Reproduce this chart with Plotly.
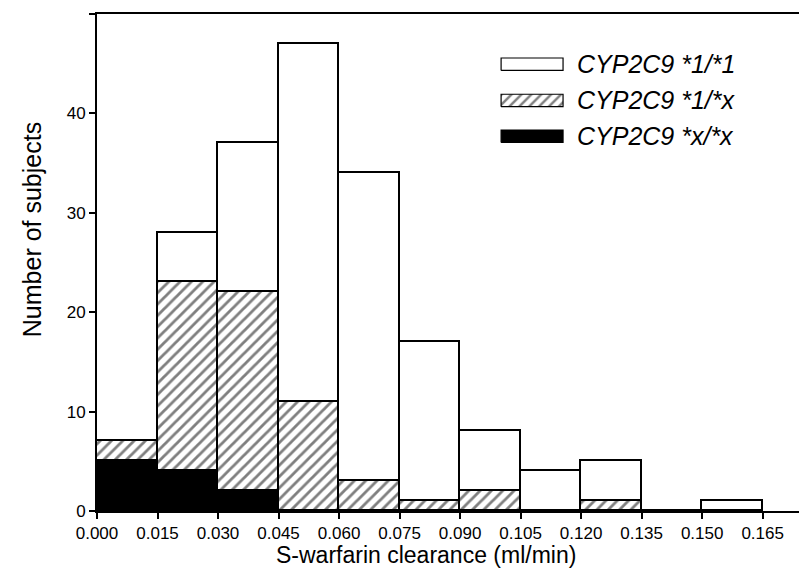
import plotly.graph_objects as go

bin_edges = [0.000, 0.015, 0.030, 0.045, 0.060, 0.075, 0.090, 0.105, 0.120, 0.135, 0.150, 0.165]
xx_counts = [5, 4, 2, 0, 0, 0, 0, 0, 0, 0, 0]          # CYP2C9 *x/*x
x1_counts = [2, 19, 20, 11, 3, 1, 2, 0, 1, 0, 0]       # CYP2C9 *1/*x
w11_counts = [0, 5, 15, 36, 31, 16, 6, 4, 4, 0, 1]     # CYP2C9 *1/*1
tick_vals = bin_edges
tick_text = ["%.3f" % v for v in bin_edges]
y_ticks = [0, 10, 20, 30, 40, 50]
legend_labels = ["CYP2C9 *1/*1", "CYP2C9 *1/*x", "CYP2C9 *x/*x"]

FONT = "Liberation Sans, Arial, sans-serif"
width = bin_edges[1] - bin_edges[0]
centers = [(a + b) / 2 for a, b in zip(bin_edges[:-1], bin_edges[1:])]

fig = go.Figure()
line = dict(color="black", width=1.6)
hatch = dict(shape="/", fgcolor="black", bgcolor="white", size=8, solidity=0.35)
fig.add_trace(go.Bar(x=centers, y=xx_counts, width=width, marker=dict(color="black", line=line),
                     showlegend=False))
fig.add_trace(go.Bar(x=centers, y=x1_counts, width=width,
                     marker=dict(color="white", line=line, pattern=hatch),
                     showlegend=False))
fig.add_trace(go.Bar(x=centers, y=w11_counts, width=width, marker=dict(color="white", line=line),
                     showlegend=False))

# custom legend on an overlay axis (unit square over plot area)
leg_x0, leg_x1 = 0.574, 0.662
leg_centers = [0.899, 0.826, 0.754]
leg_h = 0.025
styles = [
    dict(fillcolor="white"),
    dict(fillcolor="white", fillpattern=dict(shape="/", fgcolor="black", bgcolor="white", size=7, solidity=0.35)),
    dict(fillcolor="black"),
]
for lab, cy, st in zip(legend_labels, leg_centers, styles):
    fig.add_trace(go.Scatter(
        x=[leg_x0, leg_x1, leg_x1, leg_x0, leg_x0],
        y=[cy - leg_h / 2, cy - leg_h / 2, cy + leg_h / 2, cy + leg_h / 2, cy - leg_h / 2],
        mode="lines", fill="toself", line=dict(color="black", width=1.2),
        xaxis="x2", yaxis="y2", showlegend=False, hoverinfo="skip", **st))
    fig.add_annotation(x=0.679, y=cy, xref="paper", yref="paper", text="<i>%s</i>" % lab,
                       showarrow=False, xanchor="left", yanchor="middle",
                       font=dict(family=FONT, size=25, color="black"))

# axis titles
fig.add_annotation(x=0.467, y=0, xref="paper", yref="paper", yshift=-44,
                   text="S-warfarin clearance (ml/min)", showarrow=False,
                   xanchor="center", yanchor="middle",
                   font=dict(family=FONT, size=23, color="black"))
fig.add_annotation(x=0, y=0.565, xref="paper", yref="paper", xshift=-65,
                   text="Number of subjects", showarrow=False, textangle=-90,
                   xanchor="center", yanchor="middle",
                   font=dict(family=FONT, size=25, color="black"))

# the page body adds an 8px offset; compensate in the margins
fig.update_layout(
    barmode="stack",
    bargap=0,
    width=807, height=577,
    margin=dict(l=89, r=14, t=6, b=74),
    paper_bgcolor="white", plot_bgcolor="white",
    font=dict(family=FONT, color="black"),
    xaxis=dict(range=[0, 0.1745], tickvals=tick_vals, ticktext=tick_text,
               ticks="outside", ticklen=6, tickwidth=1.5, tickcolor="black",
               showline=True, linecolor="black", linewidth=2, mirror=True,
               showgrid=False, zeroline=False, automargin=False,
               tickfont=dict(size=17, family=FONT)),
    yaxis=dict(range=[0, 50], tickvals=y_ticks,
               ticks="outside", ticklen=6, tickwidth=1.5, tickcolor="black",
               showline=True, linecolor="black", linewidth=2, mirror=True,
               showgrid=False, zeroline=False, automargin=False,
               tickfont=dict(size=17, family=FONT)),
    xaxis2=dict(overlaying="x", range=[0, 1], visible=False, fixedrange=True),
    yaxis2=dict(overlaying="y", range=[0, 1], visible=False, fixedrange=True),
)

fig.write_html("out.html")
